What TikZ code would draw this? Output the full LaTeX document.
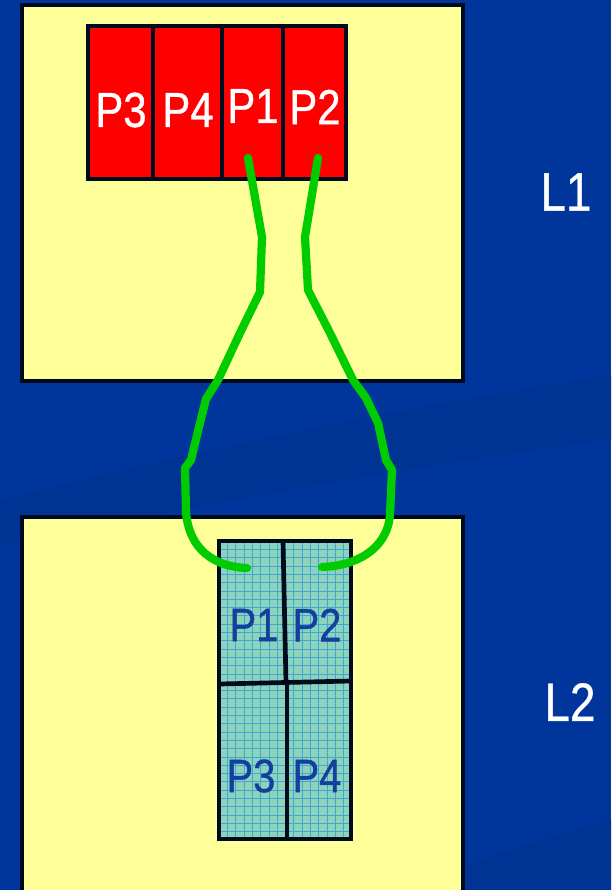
\documentclass[tikz,border=0pt]{standalone}
\usepackage{fontspec}
\newfontfamily\handfont[FakeStretch=0.85, FakeBold=0.8]{Liberation Sans}
\usetikzlibrary{positioning}
\definecolor{slideblue}{HTML}{00369C}
\definecolor{bandblue}{HTML}{003393}
\definecolor{padyellow}{HTML}{FFFF99}
\definecolor{pagered}{HTML}{FF0000}
\definecolor{frameteal}{HTML}{8DD3BC}
\definecolor{gridcyan}{HTML}{3FA8D2}
\definecolor{labelblue}{HTML}{153F9E}
\definecolor{wirelime}{HTML}{00CC00}
\definecolor{edgeblack}{HTML}{000A1E}

\begin{document}
\begin{tikzpicture}[x=0.03cm, y=-0.03cm,
  box/.style={draw=edgeblack, line width=3.6pt, fill=padyellow},
  cell/.style={draw=edgeblack, line width=4pt},
  redlbl/.style={font=\handfont\fontsize{42}{42}\selectfont, text=white, inner sep=0pt},
  bluelbl/.style={font=\handfont\fontsize{40}{40}\selectfont, text=labelblue, inner sep=0pt},
  layerlbl/.style={font=\handfont\fontsize{46}{46}\selectfont, text=white, inner sep=0pt},
  wire/.style={wirelime, line width=7pt, line cap=round, line join=round}]

  \useasboundingbox (0,0) rectangle (611,890);
  \clip (0,0) rectangle (611,890);

  % --- slide background ---
  \fill[slideblue] (0,0) rectangle (611,890);
  \fill[bandblue] (0,500) .. controls (180,455) and (380,410) .. (611,375)
    -- (611,440) .. controls (380,470) and (180,510) .. (0,545) -- cycle;
  \fill[bandblue] (464,866) .. controls (520,846) and (570,830) .. (611,820)
    -- (611,890) -- (464,890) -- cycle;

  % --- L1 box with its pages ---
  \draw[box] (22,5) rectangle (463,381);
  \draw[cell, fill=pagered] (88,26) rectangle (346,179);
  \draw[cell] (153,26) -- (153,179);
  \draw[cell] (222,26) -- (222,179);
  \draw[cell] (283,26) -- (283,179);
  \node[redlbl] (r3) at (121,110) {P3};
  \node[redlbl] (r4) at (188,110) {P4};
  \node[redlbl] (r1) at (253,106) {P1};
  \node[redlbl] (r2) at (315,107) {P2};
  \node[layerlbl] (l1) at (566,192) {L1};

  % --- L2 box with its frame ---
  \draw[box] (22,517) rectangle (463,900);
  \fill[frameteal] (219,541) rectangle (351,839);
  \begin{scope}
    \clip (219,541) rectangle (351,839);
    \foreach \gx in {0,...,16}
      \draw[gridcyan, line width=0.5pt] (219+8.3*\gx,541) -- (219+8.3*\gx,839);
    \foreach \gy in {0,...,36}
      \draw[gridcyan, line width=0.5pt] (219,541+8.3*\gy) -- (351,541+8.3*\gy);
  \end{scope}
  \draw[cell] (219,541) rectangle (351,839);
  \draw[cell] (219,684) -- (351,681);
  \draw[cell] (283,541) -- (286,683);
  \draw[cell] (287,683) -- (287,839);
  \node[bluelbl] (b1) at (254,625) {P1};
  \node[bluelbl] (b2) at (317,625) {P2};
  \node[bluelbl] (b3) at (251,776) {P3};
  \node[bluelbl] (b4) at (317,776) {P4};
  \node[layerlbl] (l2) at (570,702) {L2};

  % --- wires from L1 pages down to L2 frame ---
  \coordinate (p1top) at (248,158);
  \coordinate (p1bot) at (247,568);
  \coordinate (p2top) at (318,158);
  \coordinate (p2bot) at (322,567);
  \draw[wire] (p1top) -- (262,237) -- (260,292) -- (240,333) -- (218,380)
    -- (206,399) -- (199,427) -- (191,460) -- (185,468) -- (186,512)
    .. controls (189,550) and (215,567) .. (p1bot);
  \draw[wire] (p2top) -- (305,237) -- (308,290) -- (330,333) -- (353,380)
    -- (366,398) -- (378,423) -- (386,460) -- (392,470) -- (390,515)
    .. controls (387,550) and (355,566) .. (p2bot);
\end{tikzpicture}
\end{document}
